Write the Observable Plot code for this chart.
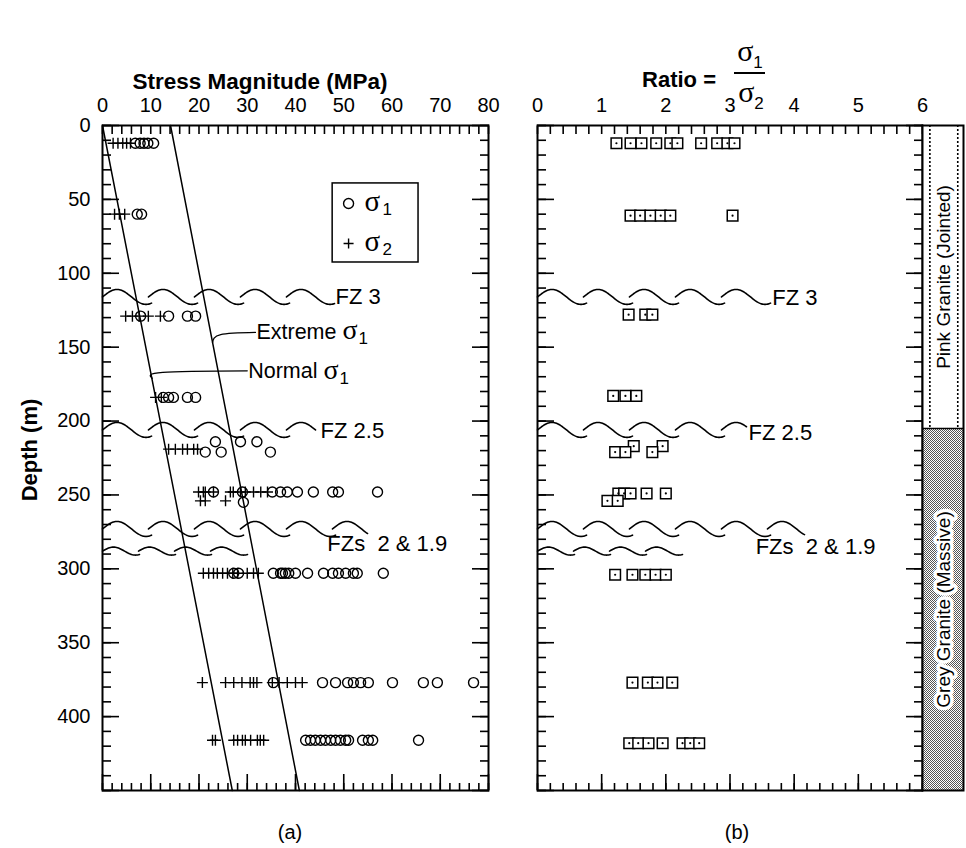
<!DOCTYPE html>
<html><head><meta charset="utf-8">
<script src="https://cdn.jsdelivr.net/npm/d3@7"></script>
<script src="https://cdn.jsdelivr.net/npm/@observablehq/plot@0.6"></script>
<style>
body{margin:0;background:#fff;}
#wrap{position:relative;width:966px;height:848px;font-family:"Liberation Sans",Arial,sans-serif;color:#000;overflow:hidden;}
#wrap svg{position:absolute;top:0;overflow:visible;}
.lbl{position:absolute;white-space:nowrap;transform:translate(-50%,-50%);}
.sig{font-family:"Liberation Serif","Times New Roman",serif;font-size:30px;}
.sub{font-size:17px;position:relative;top:7px;}
</style></head><body><div id="wrap">
<div class="lbl" style="left:260px;top:82px;font-weight:bold;font-size:22.5px;">Stress Magnitude (MPa)</div>
<div class="lbl" style="left:679px;top:80px;font-weight:bold;font-size:22px;">Ratio =</div>
<div class="lbl" style="left:750px;top:51px;"><span class="sig">σ</span><span class="sub">1</span></div>
<div style="position:absolute;left:734px;top:72px;width:31px;height:0;border-top:2px solid #000;"></div>
<div class="lbl" style="left:751px;top:92px;"><span class="sig">σ</span><span class="sub">2</span></div>
<div class="lbl" style="left:30px;top:450px;font-weight:bold;font-size:22px;transform:translate(-50%,-50%) rotate(-90deg);">Depth (m)</div>
<div class="lbl" style="left:290px;top:832px;font-size:20px;">(a)</div>
<div class="lbl" style="left:737px;top:832px;font-size:20px;">(b)</div>
</div>
<script>
// ---------- data ----------
const stressTicks = [0, 10, 20, 30, 40, 50, 60, 70, 80];
const depthTicks = [0, 50, 100, 150, 200, 250, 300, 350, 400];
const ratioTicks = [0, 1, 2, 3, 4, 5, 6];

// sigma1 (circles) by depth row
const s1Depth = [12, 60, 129, 184, 214, 221, 248, 255, 303, 377, 416];
const s1Values = [
  [6.8, 7.8, 8.6, 9.4, 10.6],
  [7.2, 8.1],
  [7.9, 13.7, 17.6, 19.3],
  [12.6, 13.7, 14.7, 17.6, 19.3],
  [23.4, 28.6, 32],
  [21.3, 24.6, 34.8],
  [23, 29, 35.2, 36.9, 38.3, 40.4, 43.7, 47.7, 48.9, 57],
  [29.2],
  [27.2, 28.2, 35.4, 36.9, 37.3, 37.9, 38.6, 40, 42.5, 45.8, 47.7, 48.9, 50.4, 52, 52.8, 58.2],
  [35.4, 45.6, 48.3, 50.8, 52, 53.5, 55.1, 60.1, 66.5, 69.4, 76.9],
  [42.1, 43.1, 44.1, 45.2, 46.2, 47.3, 48.3, 49.3, 50.4, 51, 53.9, 55.1, 56, 65.5]
];
// sigma2 (plus) by depth row
const s2Depth = [12, 60, 129, 184, 219, 248, 254, 303, 377, 416];
const s2Values = [
  [2.2, 3.2, 4.2, 5, 5.8],
  [2.5, 3.5, 4.6],
  [4.8, 6.2, 7.6, 9.5, 12],
  [11, 12.2],
  [13.7, 15.1, 16.6, 17.6, 18.9, 19.7],
  [19.9, 20.9, 21.3, 23, 26.5, 27.1, 28.6, 29.6, 31.3, 32.8, 34.2],
  [20.3, 21.3, 25.5],
  [20.9, 22, 23, 23.8, 24.9, 25.9, 27, 28, 30, 31.3, 32.3],
  [20.7, 25.5, 27.2, 28.9, 30.6, 31.3, 32.0, 35.2, 36.6, 38.3, 40.0, 41.4],
  [22.8, 23.4, 27.2, 28, 29, 29.6, 30.7, 32.1, 32.7, 33.4]
];
// ratio sigma1/sigma2 by depth row
const ratioDepth = [12, 61, 128, 183, 217, 221, 249, 254, 304, 377, 418];
const ratioValues = [
  [1.23, 1.45, 1.62, 1.85, 2.07, 2.18, 2.55, 2.8, 2.96, 3.07],
  [1.45, 1.6, 1.76, 1.92, 2.07, 3.04],
  [1.42, 1.68, 1.79],
  [1.18, 1.37, 1.54],
  [1.5, 1.95],
  [1.21, 1.37, 1.79],
  [1.26, 1.35, 1.45, 1.7, 2.0],
  [1.09, 1.25],
  [1.21, 1.48, 1.68, 1.84, 2.0],
  [1.48, 1.72, 1.87, 2.1],
  [1.43, 1.57, 1.73, 1.95, 2.26, 2.38, 2.52]
];
// trend lines
const trendDepth = [0, 450];
const normalSigma1 = [0, 26.9];
const extremeSigma1 = [14.1, 40.8];
// fracture zones
const fzName = ["FZ 3", "FZ 2.5", "FZs\u00a0 2 & 1.9", ""];
const fzDepth = [116, 206, 273, 288];
const fzEndA = [47.3, 43.5, 54.1, 30];
const fzEndB = [3.6, 3.2, 4.1, 2.26];
// lithology
const lithoName = ["Pink Granite (Jointed)", "Grey Granite (Massive)"];
const lithoTop = [0, 205];
const lithoBottom = [205, 450];

// ---------- helpers ----------
const FONT = '"Liberation Sans", Arial, Helvetica, sans-serif';
const SERIF = '"Liberation Serif", "Times New Roman", serif';
const flat = (depths, vals) => depths.flatMap((d, i) => vals[i].map(v => ({depth: d, value: v})));
const s1 = flat(s1Depth, s1Values), s2 = flat(s2Depth, s2Values), rat = flat(ratioDepth, ratioValues);
const trend = trendDepth.map((d, i) => ({depth: d, normal: normalSigma1[i], extreme: extremeSigma1[i]}));
const fzPts = ends => fzDepth.flatMap((d, i) => [{fz: i, x: 0, depth: d}, {fz: i, x: ends[i], depth: d}]);

const cv = document.createElement("canvas").getContext("2d");
function tw(t, size, family = FONT, weight = "normal") { cv.font = `${weight} ${size}px ${family}`; return cv.measureText(t).width; }

const plusSymbol = {draw(c, size) { const r = Math.sqrt(size / Math.PI); c.moveTo(-r, 0); c.lineTo(r, 0); c.moveTo(0, -r); c.lineTo(0, r); }};

// wavy fault-zone line style: overlapping tilde strokes between the two end points
function fzWave(amp, spacing, width) {
  return (context) => {
    let pts = [];
    return {
      lineStart() { pts = []; },
      point(x, y) { pts.push([+x, +y]); },
      lineEnd() {
        if (pts.length < 2) return;
        const [x0, y0] = pts[0], x1 = pts[pts.length - 1][0];
        for (let s = x0; s < x1 - spacing * 0.4; s += spacing) {
          const e = Math.min(s + 0.85 * width, x1 + 4);
          context.moveTo(s, y0);
          for (let x = s + 1; x <= e; x += 1) context.lineTo(x, y0 - amp * Math.sin(2 * Math.PI * (x - s) / width));
        }
      },
      areaStart() {}, areaEnd() {}
    };
  };
}
const waveBig = fzWave(7.5, 46, 58), waveSmall = fzWave(4, 36, 44);

function sigmaLabel(word, sub, x, y, size = 21.5) {
  const w = tw(word + " ", size);
  const ws = tw("σ", 28, SERIF);
  const o = {x: [x], y: [y], textAnchor: "start"};
  return [
    Plot.text([word], {...o, text: d => d, fontSize: size}),
    Plot.text(["σ"], {...o, text: d => d, fontSize: 28, fontFamily: SERIF, dx: w, dy: -2}),
    Plot.text([sub], {...o, text: d => d, fontSize: 17, dx: w + ws + 1, dy: 7})
  ];
}

function inwardAxes(xMinor, xMajor, yMinor, yMajor) {
  const o = {fill: "none", label: null, strokeWidth: 1.6};
  return [
    Plot.axisX({...o, anchor: "top", ticks: xMinor, tickSize: -8}),
    Plot.axisX({...o, anchor: "bottom", ticks: xMinor, tickSize: -7}),
    Plot.axisX({...o, anchor: "bottom", ticks: xMajor, tickSize: -16}),
    Plot.axisY({...o, anchor: "left", ticks: yMinor, tickSize: -9}),
    Plot.axisY({...o, anchor: "left", ticks: yMajor, tickSize: -17}),
    Plot.axisY({...o, anchor: "right", ticks: yMinor, tickSize: -9}),
    Plot.axisY({...o, anchor: "right", ticks: yMajor, tickSize: -17})
  ];
}

const H = 848, MT = 125, MB = 58;
const yOpt = {domain: [0, 450], reverse: true};
const depthMinor = d3.range(0, 451, 10), depthMajor = d3.range(0, 451, 50);
const wrap = document.getElementById("wrap");

// ---------- panel (a) ----------
const plotA = Plot.plot({
  width: 500, height: H, marginLeft: 102, marginRight: 12, marginTop: MT, marginBottom: MB,
  x: {domain: [0, 80]}, y: yOpt,
  style: {fontFamily: FONT, fontSize: "20px", background: "transparent", overflow: "visible", color: "#000"},
  marks: [
    Plot.axisX({anchor: "top", ticks: stressTicks, tickSize: 0, tickPadding: 14, fontSize: 20, label: null}),
    Plot.axisY({anchor: "left", ticks: depthTicks, tickSize: 0, tickPadding: 12, fontSize: 20, label: null}),
    ...inwardAxes(d3.range(0, 81, 2), stressTicks, depthMinor, depthMajor),
    Plot.line(trend, {x: "normal", y: "depth", strokeWidth: 1.5}),
    Plot.line(trend, {x: "extreme", y: "depth", strokeWidth: 1.5}),
    Plot.line(fzPts(fzEndA).filter(d => d.fz < 3), {x: "x", y: "depth", z: "fz", curve: waveBig, strokeWidth: 1.6}),
    Plot.line(fzPts(fzEndA).filter(d => d.fz === 3), {x: "x", y: "depth", z: "fz", curve: waveSmall, strokeWidth: 1.6}),
    Plot.text([fzName[0]], {x: [48.3], y: [fzDepth[0]], text: d => d, textAnchor: "start", fontSize: 22}),
    Plot.text([fzName[1]], {x: [45.2], y: [fzDepth[1] + 1], text: d => d, textAnchor: "start", fontSize: 22}),
    Plot.text([fzName[2]], {x: [46.6], y: [283], text: d => d, textAnchor: "start", fontSize: 22}),
    // leaders
    Plot.line([[22.8, 147], [24.5, 141.5], [31.7, 140]], {curve: "natural", strokeWidth: 1.3}),
    Plot.line([[10.3, 171], [12.5, 167], [30, 166]], {curve: "natural", strokeWidth: 1.3}),
    ...sigmaLabel("Extreme", "1", 31.9, 139.5),
    ...sigmaLabel("Normal", "1", 30.2, 166.5),
    // data
    Plot.dot(s1, {x: "value", y: "depth", r: 5, stroke: "black", strokeWidth: 1.4, fill: "none"}),
    Plot.dot(s2, {x: "value", y: "depth", symbol: plusSymbol, r: 5.5, stroke: "black", strokeWidth: 1.4, fill: "none"}),
    // legend
    Plot.rect([0], {x1: 47.7, x2: 65.5, y1: 39.2, y2: 92.7, fill: "white", stroke: "black", strokeWidth: 1.5}),
    Plot.dot([0], {x: 51, y: 52.8, r: 5, stroke: "black", strokeWidth: 1.4, fill: "none"}),
    Plot.dot([0], {x: 51, y: 79.8, symbol: plusSymbol, r: 5, stroke: "black", strokeWidth: 1.4, fill: "none"}),
    Plot.text(["σ"], {x: [54.3], y: [51.5], text: d => d, textAnchor: "start", fontSize: 29, fontFamily: SERIF}),
    Plot.text(["1"], {x: [54.3], y: [51.5], text: d => d, textAnchor: "start", fontSize: 17, dx: 18, dy: 8}),
    Plot.text(["σ"], {x: [54.3], y: [78.5], text: d => d, textAnchor: "start", fontSize: 29, fontFamily: SERIF}),
    Plot.text(["2"], {x: [54.3], y: [78.5], text: d => d, textAnchor: "start", fontSize: 17, dx: 18, dy: 8}),
    Plot.frame({strokeWidth: 2})
  ]
});
plotA.style.left = "0px";
wrap.appendChild(plotA);

// ---------- panel (b) ----------
const plotB = Plot.plot({
  width: 466, height: H, marginLeft: 37, marginRight: 44, marginTop: MT, marginBottom: MB,
  x: {domain: [0, 6]}, y: yOpt,
  style: {fontFamily: FONT, fontSize: "20px", background: "transparent", overflow: "visible", color: "#000"},
  marks: [
    Plot.axisX({anchor: "top", ticks: ratioTicks, tickFormat: d3.format("d"), tickSize: 0, tickPadding: 14, fontSize: 20, label: null}),
    ...inwardAxes(d3.range(0, 31).map(i => i / 5), ratioTicks, depthMinor, depthMajor),
    Plot.line(fzPts(fzEndB).filter(d => d.fz < 3), {x: "x", y: "depth", z: "fz", curve: waveBig, strokeWidth: 1.6}),
    Plot.line(fzPts(fzEndB).filter(d => d.fz === 3), {x: "x", y: "depth", z: "fz", curve: waveSmall, strokeWidth: 1.6}),
    Plot.text([fzName[0]], {x: [3.66], y: [117], text: d => d, textAnchor: "start", fontSize: 22}),
    Plot.text([fzName[1]], {x: [3.29], y: [208], text: d => d, textAnchor: "start", fontSize: 22}),
    Plot.text([fzName[2]], {x: [3.4], y: [285], text: d => d, textAnchor: "start", fontSize: 22}),
    Plot.dot(rat, {x: "value", y: "depth", symbol: "square", r: 6, fill: "white", stroke: "black", strokeWidth: 1.5}),
    Plot.dot(rat, {x: "value", y: "depth", r: 1.1, fill: "black"}),
    Plot.frame({strokeWidth: 2})
  ]
});
plotB.style.left = "500px";
wrap.appendChild(plotB);

// ---------- lithology column ----------
const litho = lithoName.map((name, i) => ({name, top: lithoTop[i], bottom: lithoBottom[i], mid: (lithoTop[i] + lithoBottom[i]) / 2}));
const plotL = Plot.plot({
  width: 41, height: H, marginLeft: 0, marginRight: 0, marginTop: MT, marginBottom: MB,
  x: {domain: [0, 1], axis: null}, y: {...yOpt, axis: null},
  style: {fontFamily: FONT, background: "transparent", overflow: "visible", color: "#000"},
  marks: [
    Plot.rect(litho.slice(0, 1), {x1: 0, x2: 1, y1: "top", y2: "bottom", fill: "white"}),
    Plot.rect(litho.slice(1), {x1: 0, x2: 1, y1: "top", y2: "bottom", fill: "url(#stipple)"}),
    Plot.ruleX([0.18, 0.86], {y1: lithoTop[0], y2: lithoBottom[0], strokeDasharray: "2,2", strokeWidth: 1.6}),
    Plot.ruleY([lithoBottom[0]], {strokeWidth: 1.5}),
    Plot.text(litho.slice(0, 1), {x: 0.52, y: "mid", text: "name", rotate: -90, fontSize: 19, stroke: "white", strokeWidth: 5, fill: "black"}),
    Plot.text(litho.slice(1), {x: 0.52, y: "mid", text: "name", rotate: -90, fontSize: 19, stroke: "white", strokeWidth: 7, fill: "black"}),
    Plot.frame({strokeWidth: 2})
  ]
});
d3.select(plotL).append("defs").html('<pattern id="stipple" width="2" height="2" patternUnits="userSpaceOnUse"><rect width="2" height="2" fill="#fff"/><rect width="1" height="1" fill="#555"/><rect x="1" y="1" width="1" height="1" fill="#555"/></pattern>');
plotL.style.left = "922px";
wrap.appendChild(plotL);
</script></body></html>
